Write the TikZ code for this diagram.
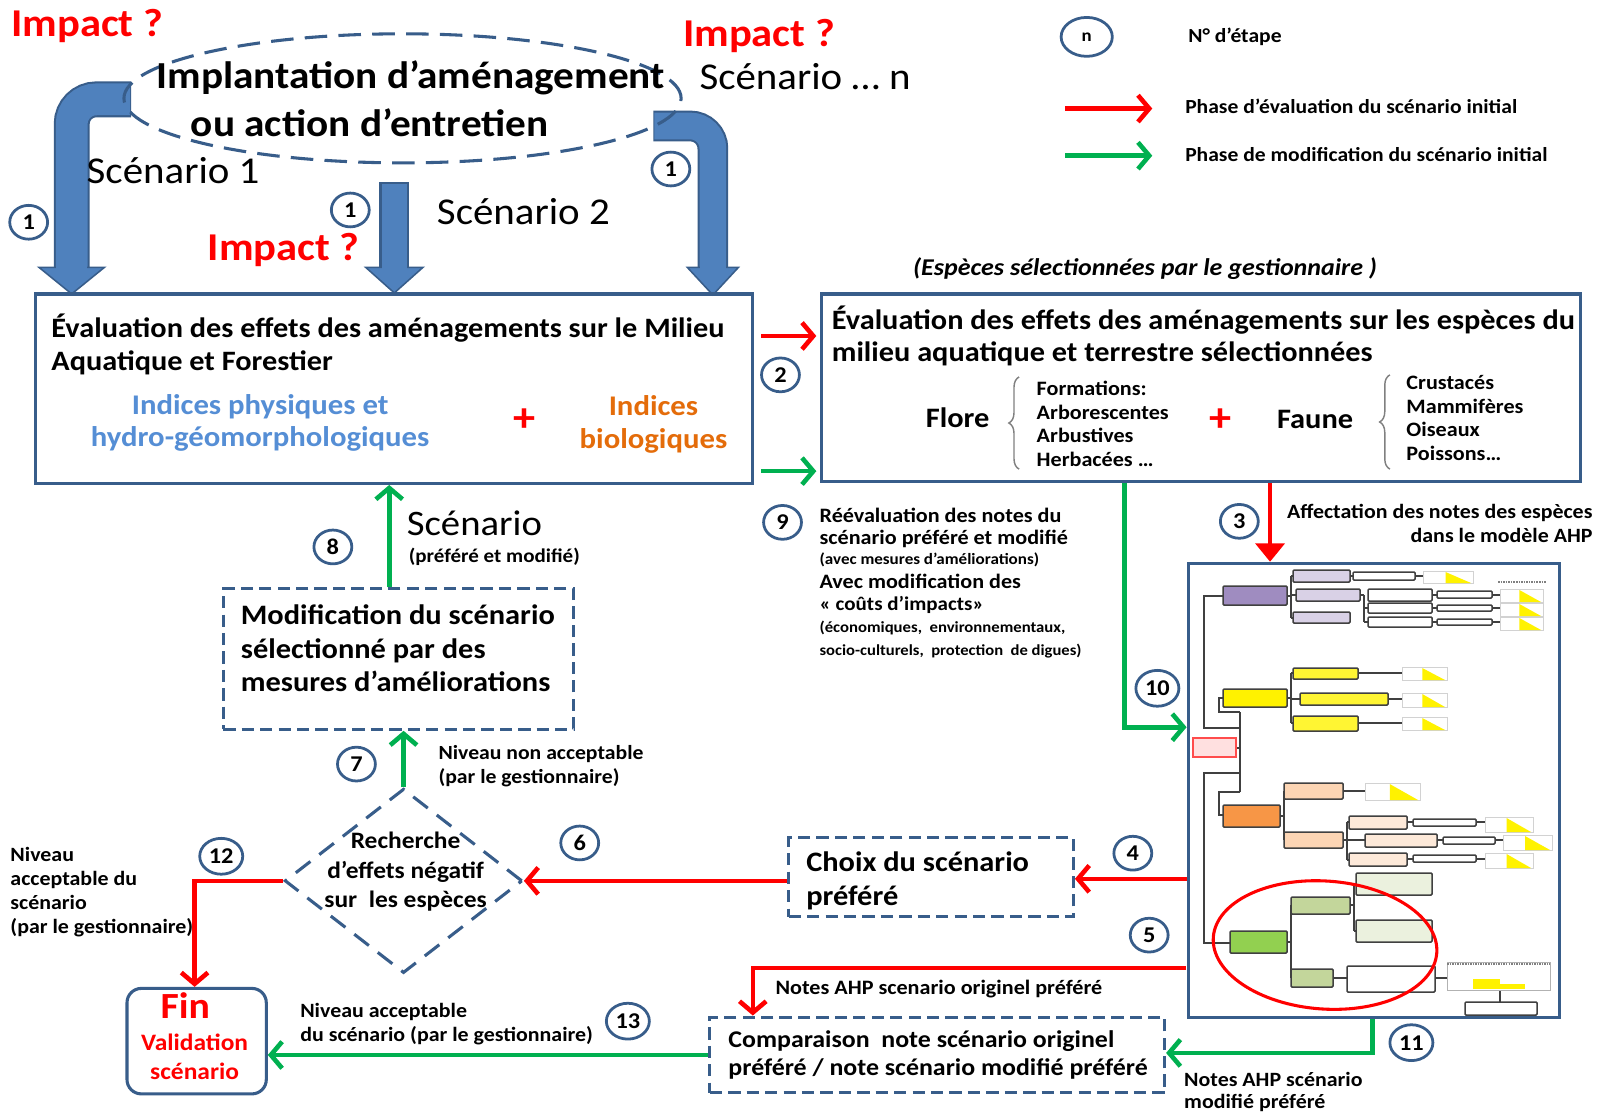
\documentclass[tikz,border=0pt]{standalone}
\usepackage{fontspec}
\setmainfont{Carlito}[FakeStretch=1.08]
\usetikzlibrary{arrows.meta,shapes.geometric,decorations.pathreplacing,calc}
\definecolor{nblue}{HTML}{385D8A}
\definecolor{ablue}{HTML}{4F81BD}
\definecolor{rred}{HTML}{FF0000}
\definecolor{agreen}{HTML}{00B050}
\definecolor{lblue}{HTML}{558ED5}
\definecolor{orng}{HTML}{E46C0A}
\definecolor{tgray}{HTML}{404040}
\definecolor{pur1}{HTML}{9F8CC0}
\definecolor{pur2}{HTML}{D9D1E6}
\definecolor{org1}{HTML}{F79646}
\definecolor{org2}{HTML}{FCD5B4}
\definecolor{org3}{HTML}{FDE9D9}
\definecolor{grn1}{HTML}{92D050}
\definecolor{grn2}{HTML}{C3D69B}
\definecolor{grn3}{HTML}{EBF1DE}
\newcommand\fsz[2]{\fontsize{#1}{#2}\selectfont}
\newcommand\tbx[5]{\draw[draw=tgray,line width=1.5pt,fill=#5,rounded corners=1pt] (#1,#2) rectangle (#3,#4);}
\newcommand\chrt[4]{\draw[gray!35,line width=0.6pt] (#1,#2) rectangle (#3,#4);
  \fill[yellow] ({#1+0.45*(#3-#1)},{#2+1}) -- ({#1+0.45*(#3-#1)},#4) -- ({#3-2},#4) -- cycle;}
\begin{document}
\begin{tikzpicture}[x=1pt,y=-1pt,
  box/.style={draw=nblue,line width=3pt,inner sep=0pt},
  dbox/.style={draw=nblue,line width=3pt,dash pattern=on 12pt off 6pt,inner sep=0pt},
  num/.style={ellipse,draw=nblue,line width=2.7pt,fill=white,minimum width=37pt,minimum height=33pt,inner sep=0pt,font=\bfseries\fsz{22}{22}},
  wnum/.style={num,minimum width=42pt,minimum height=35pt},
  rarr/.style={draw=rred,line width=4.5pt,-{Straight Barb[length=11pt,width=26pt]}},
  garr/.style={draw=agreen,line width=4.5pt,-{Straight Barb[length=11pt,width=26pt]}},
  txt/.style={inner sep=0pt,align=left,text=black},
  tl/.style={draw=tgray,line width=1.3pt},
]
\useasboundingbox (0,0) rectangle (1568,1088);
\fill[white] (0,0) rectangle (1568,1088);

% ---------- top ellipse and block arrows ----------
\draw[nblue,line width=35pt,rounded corners=24pt] (128,97) -| (70,262);
\draw[ablue,line width=31pt,rounded corners=24pt] (127,97) -| (70,265);
\filldraw[fill=ablue,draw=nblue,line width=1.5pt] (38,261) -- (102,261) -- (70,287) -- cycle;
\fill[ablue] (55,255) rectangle (85,263);
\draw[nblue,line width=29pt] (385,178) -- (385,262);
\draw[ablue,line width=25pt] (385,180) -- (385,265);
\filldraw[fill=ablue,draw=nblue,line width=1.5pt] (357,261) -- (413,261) -- (385,286) -- cycle;
\fill[ablue] (373,255) rectangle (397,263);
\draw[nblue,line width=30pt,rounded corners=22pt] (638,123) -| (696,262);
\draw[ablue,line width=26pt,rounded corners=22pt] (639,123) -| (696,265);
\filldraw[fill=ablue,draw=nblue,line width=1.5pt] (671,261) -- (721,261) -- (696,288) -- cycle;
\fill[ablue] (683,255) rectangle (709,263);

\node[ellipse,draw=nblue,line width=3pt,dash pattern=on 22pt off 11pt,minimum width=544pt,minimum height=126pt] (ell) at (393,96) {};
\node[txt,font=\bfseries\fsz{37.3}{44}] (imp1) at (401,76) {Implantation d’aménagement};
\node[txt,font=\bfseries\fsz{37.3}{44}] (imp2) at (361,120) {ou action d’entretien};

\node[txt,font=\fsz{37}{40}] (sc1) at (169,167) {Scénario 1};
\node[txt,font=\fsz{37}{40}] (sc2) at (511,207) {Scénario 2};
\node[txt,font=\fsz{37}{40}] (scn) at (786,75) {Scénario … n};
\node[txt,text=rred,font=\bfseries\fsz{38.5}{40}] (ia) at (85,25) {Impact ?};
\node[txt,text=rred,font=\bfseries\fsz{38.5}{40}] (ib) at (741,35) {Impact ?};
\node[txt,text=rred,font=\bfseries\fsz{38.5}{40}] (ic) at (277,244) {Impact ?};

\node[num] (n1a) at (28,217) {1};
\node[num] (n1b) at (342,205) {1};
\node[num] (n1c) at (655,165) {1};

% ---------- legend ----------
\node[num,minimum width=50pt,minimum height=38pt,font=\bfseries\fsz{17}{17}] (ln) at (1061,36) {n};
\node[txt,anchor=west,font=\bfseries\fsz{19.5}{20}] (lnt) at (1160,36) {N° d’étape};
\coordinate (lr1) at (1040,106); \coordinate (lr2) at (1125,106);
\coordinate (lg1) at (1040,152); \coordinate (lg2) at (1125,152);
\draw[rarr] (lr1) -- (lr2);
\draw[garr] (lg1) -- (lg2);
\node[txt,anchor=west,font=\bfseries\fsz{19.5}{20}] (lrt) at (1157,104) {Phase d’évaluation du scénario initial};
\node[txt,anchor=west,font=\bfseries\fsz{19.5}{20}] (lgt) at (1157,151) {Phase de modification du scénario initial};

% ---------- box 1 ----------
\node[box,minimum width=700pt,minimum height=185pt] (ev1) at (385,379.5) {};
\node[txt,anchor=west,font=\bfseries\fsz{27.4}{32}] (ev1t) at (50,336) {Évaluation des effets des aménagements sur le Milieu\\Aquatique et Forestier};
\node[txt,align=center,text=lblue,font=\bfseries\fsz{27.8}{32}] (ip) at (254,413) {Indices physiques et\\hydro-géomorphologiques};
\node[txt,text=rred,font=\bfseries\fsz{40}{40}] (pl1) at (512,410) {+};
\node[txt,align=center,text=orng,font=\bfseries\fsz{27.8}{32}] (ib2) at (638,414) {Indices\\biologiques};

% ---------- box 2 ----------
\node[txt,font=\bfseries\itshape\fsz{23.5}{24}] (esp) at (1118,262) {(Espèces sélectionnées par le gestionnaire )};
\node[box,minimum width=741pt,minimum height=183pt] (ev2) at (1172.5,378.5) {};
\node[txt,anchor=west,font=\bfseries\fsz{27.4}{32}] (ev2t) at (812,328) {Évaluation des effets des aménagements sur les espèces du\\milieu aquatique et terrestre sélectionnées};
\node[txt,font=\bfseries\fsz{27.5}{30}] (flore) at (935,408) {Flore};
\draw[gray,line width=1.4pt,decorate,decoration={brace,amplitude=10pt}] (995,458) -- (995,368);
\node[txt,anchor=west,font=\bfseries\fsz{20}{23}] (fl) at (1012,414) {Formations:\\Arborescentes\\Arbustives\\Herbacées …};
\node[txt,text=rred,font=\bfseries\fsz{40}{40}] (pl2) at (1192,410) {+};
\node[txt,font=\bfseries\fsz{27.5}{30}] (faune) at (1284,410) {Faune};
\draw[gray,line width=1.4pt,decorate,decoration={brace,amplitude=10pt}] (1357,458) -- (1357,366);
\node[txt,anchor=west,font=\bfseries\fsz{20}{23}] (fa) at (1373,408) {Crustacés\\Mammifères\\Oiseaux\\Poissons…};

\coordinate (a2r1) at (743,328); \coordinate (a2r2) at (797,328);
\coordinate (a2g1) at (743,460); \coordinate (a2g2) at (797,460);
\draw[rarr] (a2r1) -- (a2r2);
\draw[garr] (a2g1) -- (a2g2);
\node[num] (n2) at (762,366) {2};

% ---------- AHP box ----------
\node[box,minimum width=363pt,minimum height=443pt] (ahp) at (1341.5,771.5) {};
\begin{scope}[scale=0.97637]
\draw[tl] (1223,596) -| (1204,728) -- (1240,728);
\draw[tl] (1223,698) -- (1219,698) |- (1240,712);
\draw[tgray,line width=2.4pt] (1240,712) -- (1240,792);
\draw[tl] (1240,792) -| (1219,815) -- (1223,815);
\draw[tl] (1240,773) -- (1204,773) |- (1230,943);
\draw[tl] (1236,748) -- (1240,748);
\draw[draw=red!70,fill=red!12,line width=1.4pt] (1193,738) rectangle (1236,757);
% purple group
\draw[tl] (1287,596) -- (1291,596) (1291,576) -- (1291,618);
\draw[tl] (1291,576) -- (1293,576) (1291,595) -- (1296,595) (1291,618) -- (1293,618);
\tbx{1223}{586}{1287}{605}{pur1}
\tbx{1293}{570}{1350}{582}{pur2}
\tbx{1296}{589}{1360}{601}{pur2}
\tbx{1293}{612}{1350}{623}{pur2}
\draw[tl] (1350,576) -- (1353,576) (1415,576) -- (1423,576);
\tbx{1353}{572}{1415}{580}{white}
\chrt{1423}{571}{1473}{583}
\draw[tl] (1360,595) -- (1364,595) (1364,595) -- (1364,622) (1364,608) -- (1368,608) (1364,622) -- (1368,622);
\tbx{1368}{589}{1432}{601}{white}
\tbx{1368}{603}{1432}{613}{white}
\tbx{1368}{617}{1432}{627}{white}
\draw[tl] (1432,595) -- (1437,595) (1432,608) -- (1437,608) (1432,622) -- (1437,622);
\tbx{1437}{591}{1492}{598}{white}
\tbx{1437}{605}{1492}{611}{white}
\tbx{1437}{619}{1492}{625}{white}
\draw[tl] (1492,595) -- (1500,595) (1492,608) -- (1500,608) (1492,622) -- (1500,622);
\chrt{1500}{589}{1543}{602}
\chrt{1500}{603}{1543}{616}
\chrt{1500}{617}{1543}{630}
\draw[gray,line width=2pt,dash pattern=on 1.5pt off 1pt] (1498,582) -- (1546,582);
% yellow group
\draw[tl] (1287,698) -- (1291,698) (1291,673) -- (1291,723) (1291,673) -- (1293,673) (1291,699) -- (1300,699) (1291,723) -- (1293,723);
\tbx{1223}{689}{1287}{707}{yellow}
\tbx{1293}{668}{1358}{679}{yellow!80!white}
\tbx{1300}{693}{1388}{705}{yellow!80!white}
\tbx{1293}{716}{1358}{731}{yellow!80!white}
\draw[tl] (1358,673) -- (1402,673) (1388,699) -- (1402,699) (1358,723) -- (1402,723);
\chrt{1402}{667}{1447}{680}
\chrt{1402}{693}{1447}{707}
\chrt{1402}{717}{1447}{730}
% orange group
\draw[tl] (1280,816) -- (1284,816) (1284,791) -- (1284,840);
\tbx{1223}{805}{1280}{827}{org1}
\tbx{1284}{783}{1343}{799}{org2}
\tbx{1284}{832}{1343}{848}{org2}
\draw[tl] (1343,791) -- (1365,791);
\chrt{1365}{783}{1420}{800}
\draw[tl] (1343,840) -- (1347,840) (1347,822) -- (1347,860) (1347,822) -- (1349,822) (1347,840) -- (1365,840) (1347,860) -- (1349,860);
\tbx{1349}{816}{1407}{829}{org3}
\tbx{1365}{834}{1437}{847}{org3}
\tbx{1349}{853}{1407}{866}{org3}
\draw[tl] (1407,822) -- (1413,822) (1437,840) -- (1443,840) (1407,859) -- (1413,859);
\tbx{1413}{819}{1476}{826}{white}
\tbx{1443}{837}{1495}{844}{white}
\tbx{1413}{855}{1476}{862}{white}
\draw[tl] (1476,822) -- (1485,822) (1495,840) -- (1503,840) (1476,859) -- (1485,859);
\chrt{1485}{817}{1533}{832}
\chrt{1503}{835}{1552}{850}
\chrt{1485}{853}{1533}{868}
% green group
\draw[tl] (1287,942) -- (1291,942) (1291,905) -- (1291,978);
\tbx{1230}{931}{1287}{953}{grn1}
\tbx{1291}{897}{1350}{914}{grn2}
\tbx{1291}{969}{1333}{987}{grn2}
\draw[tl] (1350,905) -- (1354,905) (1354,884) -- (1354,931) (1354,884) -- (1356,884) (1354,931) -- (1356,931);
\tbx{1356}{873}{1432}{895}{grn3}
\tbx{1356}{920}{1432}{942}{grn3}
\draw[tl] (1333,978) -- (1347,978) (1435,978) -- (1447,978) (1500,990) -- (1500,1002);
\tbx{1347}{966}{1435}{992}{white}
\draw[gray!60,line width=0.8pt] (1447,962) rectangle (1550,990);
\draw[gray,line width=2pt,dash pattern=on 1.5pt off 1pt] (1447,964) -- (1550,964);
\fill[yellow] (1473,979) rectangle (1500,984);
\fill[yellow] (1473,984) rectangle (1525,989);
\tbx{1465}{1002}{1537}{1015}{white}
\draw[rred,line width=3pt,rotate around={-4:(1325,945)}] (1325,945) ellipse [x radius=112, y radius=64];
\end{scope}

% ---------- step 3 and 10 ----------
\coordinate (a3) at (1240,472);
\draw[draw=rred,line width=4.5pt,-{Triangle[length=18pt,width=28pt]}] (a3) -- (a3 |- ahp.north);
\node[num] (n3) at (1210,509) {3};
\node[txt,anchor=east,align=right,font=\bfseries\fsz{19.8}{23}] (aff) at (1555,511) {Affectation des notes des espèces\\dans le modèle AHP};
\coordinate (a10) at (1098,472);
\coordinate (a10e) at (1098,710);
\draw[garr] (a10) -- (a10e) -- (a10e -| ahp.west);
\node[wnum] (n10) at (1130,672) {10};

% ---------- step 9 texts ----------
\node[num] (n9) at (764,510) {9};
\node[txt,anchor=west,font=\bfseries\fsz{20}{20}] (t9a) at (800,503) {Réévaluation des notes du};
\node[txt,anchor=west,font=\bfseries\fsz{20}{20}] (t9b) at (800,526) {scénario préféré et modifié};
\node[txt,anchor=west,font=\bfseries\fsz{15.4}{16}] (t9c) at (800,547) {(avec mesures d’améliorations)};
\node[txt,anchor=west,font=\bfseries\fsz{20}{20}] (t9d) at (800,568) {Avec modification des};
\node[txt,anchor=west,font=\bfseries\fsz{19}{20}] (t9e) at (800,591) {« coûts d’impacts»};
\node[txt,anchor=west,font=\bfseries\fsz{15.1}{16}] (t9f) at (800,613) {(économiques,\ \ environnementaux,};
\node[txt,anchor=west,font=\bfseries\fsz{15}{16}] (t9g) at (800,636) {socio-culturels,\ \ protection\ \ de digues)};

% ---------- modification box and step 8 ----------
\node[dbox,minimum width=342pt,minimum height=137pt] (modif) at (389,643.5) {};
\node[txt,anchor=west,font=\bfseries\fsz{27.5}{32.5}] (modt) at (235,633) {Modification du scénario\\sélectionné par des\\mesures d’améliorations};
\coordinate (x380) at (380,0);
\draw[garr] (modif.north -| x380) -- (ev1.south -| x380);
\node[num] (n8) at (325,534) {8};
\node[txt,anchor=west,font=\fsz{35}{36}] (scp) at (397,511) {Scénario};
\node[txt,anchor=west,font=\bfseries\fsz{19}{20}] (scp2) at (399,544) {(préféré et modifié)};

% ---------- diamond ----------
\node[diamond,draw=nblue,line width=3pt,dash pattern=on 18pt off 11pt,minimum width=232pt,minimum height=180pt,inner sep=0pt] (dia) at (394,860) {};
\node[txt,align=center,font=\bfseries\fsz{23}{28.5}] (diat) at (396,851) {Recherche\\d’effets négatif\\sur\ \ les espèces};
\draw[garr] (dia.north) -- (dia.north |- modif.south);
\node[num] (n7) at (348,746) {7};
\node[txt,anchor=west,font=\bfseries\fsz{19.6}{23}] (t7) at (428,748) {Niveau non acceptable\\(par le gestionnaire)};

% ---------- choix box ----------
\node[dbox,minimum width=278pt,minimum height=77pt] (choix) at (909,856.5) {};
\node[txt,anchor=west,font=\bfseries\fsz{27.5}{33}] (choixt) at (787,860) {Choix du scénario\\préféré};
\coordinate (y858) at (0,858);
\draw[rarr] (ahp.west |- y858) -- (choix.east |- y858);
\node[num] (n4) at (1106,833) {4};
\draw[rarr] (choix.west |- dia.east) -- (dia.east);
\node[num] (n6) at (566,823) {6};

% ---------- comparaison box ----------
\node[dbox,minimum width=444pt,minimum height=74pt] (comp) at (915,1030) {};
\node[txt,anchor=west,font=\bfseries\fsz{23.4}{28}] (compt) at (711,1030) {Comparaison\ \ note scénario originel\\préféré / note scénario modifié préféré};
\coordinate (a5) at (1158,945);
\coordinate (x735) at (735,0);
\draw[rarr] (a5) -- (a5 -| x735) -- (comp.north -| x735);
\node[num] (n5) at (1122,913) {5};
\node[txt,anchor=west,font=\bfseries\fsz{20}{20}] (t5) at (757,966) {Notes AHP scenario originel préféré};
\coordinate (a11) at (1340,995);
\coordinate (a11b) at (1340,1028);
\draw[garr] (a11) -- (a11b) -- (a11b -| comp.east);
\node[wnum] (n11) at (1378,1018) {11};
\node[txt,anchor=west,font=\bfseries\fsz{19.8}{22}] (t11) at (1156,1066) {Notes AHP scénario\\modifié préféré};

% ---------- Fin ----------
\node[draw=nblue,line width=3pt,rounded corners=14pt,minimum width=136pt,minimum height=103pt,inner sep=0pt] (fin) at (192,1016.5) {};
\node[txt,text=rred,font=\bfseries\fsz{36}{36}] (fint) at (181,982) {Fin};
\node[txt,align=center,text=rred,font=\bfseries\fsz{23}{28}] (valt) at (190,1032) {Validation\\scénario};
\draw[garr] (comp.west) -- (comp.west -| fin.east);
\node[wnum] (n13) at (613,997) {13};
\node[txt,anchor=west,font=\bfseries\fsz{19.8}{24}] (t13) at (293,1000) {Niveau acceptable\\du scénario (par le gestionnaire)};
\coordinate (x190) at (190,0);
\draw[rarr] (dia.west) -- (dia.west -| x190) -- (fin.north -| x190);
\node[wnum] (n12) at (216,836) {12};
\node[txt,anchor=west,font=\bfseries\fsz{19.8}{23.5}] (t12) at (10,871) {Niveau\\acceptable du\\scénario\\(par le gestionnaire)};
\end{tikzpicture}
\end{document}
